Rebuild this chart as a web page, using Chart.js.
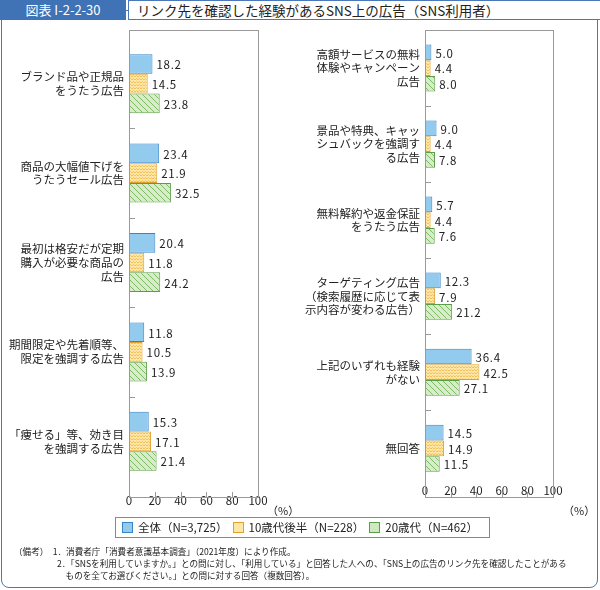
<!DOCTYPE html>
<html><head><meta charset="utf-8">
<script src="https://cdn.jsdelivr.net/npm/chart.js@4"></script>
<style>
body{margin:0;width:600px;height:590px;background:#fff;font-family:"Noto Sans CJK JP",sans-serif;position:relative;overflow:hidden}
#frame{position:absolute;left:1px;top:10px;width:595px;height:576px;border:1.5px solid #4a78b8;border-radius:8px}
#tag{position:absolute;left:0;top:0;width:126px;height:20px;background:#3f73b6;color:#fff;font-size:13px;line-height:20px;text-align:center}
#ttl{position:absolute;left:128px;top:0;width:468px;height:18px;border:1px solid #4a78b8;background:#fff;font-size:13.5px;line-height:18px;padding-left:8px;color:#222}
canvas{position:absolute;top:0}
.pct{position:absolute;top:502px;font-size:11px;color:#222}
#legend{position:absolute;left:115px;top:517px;width:367px;height:19px;border:1px solid #888;font-size:11.5px;line-height:19px;color:#222;white-space:nowrap;padding-left:6px;background:#fff}
#legend span.sw{display:inline-block;width:9px;height:9px;border:1px solid;vertical-align:-1px;margin-right:5px}
#notes{position:absolute;left:14px;top:545px;font-size:8.6px;line-height:12px;color:#222;white-space:pre}
</style></head><body>
<div id="frame"></div>
<div id="tag">図表 I-2-2-30</div>
<div id="ttl">リンク先を確認した経験があるSNS上の広告（SNS利用者）</div>
<div style="position:absolute;left:0;top:0;width:300px;height:512px"><canvas id="c1"></canvas></div>
<div style="position:absolute;left:290px;top:0;width:300px;height:512px"><canvas id="c2"></canvas></div>
<div class="pct" style="left:267px">（%）</div>
<div class="pct" style="left:563px">（%）</div>
<div id="legend"><span class="sw" style="background:#93cbef;border-color:#3a84c4"></span>全体（N=3,725）&nbsp;&nbsp;<span class="sw" id="sw2" style="background:#fde6a6;border-color:#e0a030"></span>10歳代後半（N=228）&nbsp;&nbsp;<span class="sw" id="sw3" style="background:#cfe8bf;border-color:#5a9e48"></span>20歳代（N=462）</div>
<div id="notes">（備考）　1．消費者庁「消費者意識基本調査」（2021年度）により作成。
　　　　　2．「SNSを利用していますか。」との問に対し、「利用している」と回答した人への、「SNS上の広告のリンク先を確認したことがある
　　　　　　ものを全てお選びください。」との問に対する回答（複数回答）。</div>
<script>
const catsLeft=[["ブランド品や正規品","をうたう広告"],["商品の大幅値下げを","うたうセール広告"],["最初は格安だが定期","購入が必要な商品の","広告"],["期間限定や先着順等、","限定を強調する広告"],["「痩せる」等、効き目","を強調する広告"]];
const allLeft=[18.2,23.4,20.4,11.8,15.3];
const teenLeft=[14.5,21.9,11.8,10.5,17.1];
const twentiesLeft=[23.8,32.5,24.2,13.9,21.4];
const catsRight=[["高額サービスの無料","体験やキャンペーン","広告"],["景品や特典、キャッ","シュバックを強調す","る広告"],["無料解約や返金保証","をうたう広告"],["ターゲティング広告","（検索履歴に応じて表","示内容が変わる広告）"],["上記のいずれも経験","がない"],["無回答"]];
const allRight=[5.0,9.0,5.7,12.3,36.4,14.5];
const teenRight=[4.4,4.4,4.4,7.9,42.5,14.9];
const twentiesRight=[8.0,7.8,7.6,21.2,27.1,11.5];
const seriesNames=["全体（N=3,725）","10歳代後半（N=228）","20歳代（N=462）"];
const xTicks=[0,20,40,60,80,100];

function pat(kind){
  const c=document.createElement('canvas');c.width=6;c.height=6;const g=c.getContext('2d');
  if(kind==='o'){g.fillStyle='#fde6a6';g.fillRect(0,0,6,6);g.strokeStyle='#f0b848';g.lineWidth=0.8;
    g.beginPath();g.moveTo(0,2);g.lineTo(1.5,0.5);g.lineTo(3,2);g.lineTo(4.5,0.5);g.lineTo(6,2);
    g.moveTo(0,5);g.lineTo(1.5,3.5);g.lineTo(3,5);g.lineTo(4.5,3.5);g.lineTo(6,5);g.stroke();}
  else{g.fillStyle='#d8eccb';g.fillRect(0,0,6,6);g.strokeStyle='#7dbb62';g.lineWidth=1;
    g.beginPath();g.moveTo(0,0);g.lineTo(6,6);g.moveTo(-3,3);g.lineTo(3,9);g.moveTo(3,-3);g.lineTo(9,3);g.stroke();}
  return document.createElement('canvas').getContext('2d').createPattern(c,'repeat');
}
const P1=pat('o'),P2=pat('g');
const fr={id:'fr',afterDraw(ch,a,o){
  const {ctx,chartArea:ca}=ch;const x=ch.scales.x,y=ch.scales.y;
  const top=o.top,bot=o.bottom;
  ctx.save();ctx.strokeStyle='#9a9a9a';ctx.lineWidth=1;
  ctx.strokeRect(ca.left+0.5,top+0.5,ca.right-ca.left,bot-top);
  ctx.beginPath();
  for(const t of xTicks.slice(1,-1)){const px=Math.round(x.getPixelForValue(t))+0.5;ctx.moveTo(px,bot);ctx.lineTo(px,bot-5);}
  const n=ch.data.labels.length;
  for(let i=1;i<n;i++){const py=Math.round((y.getPixelForValue(i-1)+y.getPixelForValue(i))/2)+0.5;ctx.moveTo(ca.left,py);ctx.lineTo(ca.left+6,py);}
  ctx.stroke();
  ctx.fillStyle='#222';ctx.font='11.5px "Noto Sans CJK JP"';ctx.textBaseline='middle';
  ch.data.datasets.forEach((d,di)=>{ch.getDatasetMeta(di).data.forEach((b,i)=>{ctx.fillText(d.data[i].toFixed(1).split('').join('\u200a'),b.x+4,b.y+1);});});
  ctx.restore();}};
function mk(id,cats,a,b,c,top,bot,yw,padR){
  new Chart(document.getElementById(id),{type:'bar',
   data:{labels:cats,datasets:[
    {label:seriesNames[0],data:a,backgroundColor:'#93cbef',borderColor:'#3a84c4',borderWidth:1},
    {label:seriesNames[1],data:b,backgroundColor:P1,borderColor:'#e0a030',borderWidth:1},
    {label:seriesNames[2],data:c,backgroundColor:P2,borderColor:'#5a9e48',borderWidth:1}]},
   options:{indexAxis:'y',responsive:true,maintainAspectRatio:false,animation:false,
    categoryPercentage:0.64,barPercentage:1,
    layout:{padding:{top:top,right:padR,bottom:0,left:0}},
    plugins:{legend:{display:false},tooltip:{enabled:false},fr:{top:30,bottom:497}},
    scales:{
     x:{min:0,max:100,afterBuildTicks:s=>{s.ticks=xTicks.map(v=>({value:v}));},grid:{display:false},border:{display:false},
        ticks:{color:'#222',font:{size:11.5,family:'"Noto Sans CJK JP"'},padding:bot,maxRotation:0},afterFit:s=>{s.height=512-(497-(30-top===0?0:0))-0;}},
     y:{grid:{display:false},border:{display:false},ticks:{color:'#222',font:{size:11.5,family:'"Noto Sans CJK JP"'},padding:6,crossAlign:'far'},afterFit:s=>{s.width=yw;}}
    }},plugins:[fr]});
}
// left: chart area 39..486 ; right: 30..497
Chart.defaults.font.family='"Noto Sans CJK JP"';
(function(){
 // left
 new Chart(document.getElementById('c1'),cfg(catsLeft,allLeft,teenLeft,twentiesLeft,39,26,129,42));
 new Chart(document.getElementById('c2'),cfg(catsRight,allRight,teenRight,twentiesRight,30,15,135,37));
})();
function cfg(cats,a,b,c,top,xh,yw,padR){
 return {type:'bar',
   data:{labels:cats,datasets:[
    {label:seriesNames[0],data:a,backgroundColor:'#93cbef',borderColor:'#3a84c4',borderWidth:1},
    {label:seriesNames[1],data:b,backgroundColor:P1,borderColor:'#e0a030',borderWidth:1},
    {label:seriesNames[2],data:c,backgroundColor:P2,borderColor:'#5a9e48',borderWidth:1}]},
   options:{indexAxis:'y',responsive:true,maintainAspectRatio:false,animation:false,
    categoryPercentage:top===39?0.66:0.62,barPercentage:1,
    layout:{padding:{top:top,right:padR,bottom:0,left:0}},
    plugins:{legend:{display:false},tooltip:{enabled:false},fr:{top:30,bottom:497}},
    scales:{
     x:{min:0,max:100,afterBuildTicks:s=>{s.ticks=xTicks.map(v=>({value:v}));},grid:{display:false,tickLength:0},border:{display:false},
        ticks:{color:'#222',font:{size:11.5},padding:xh-18,maxRotation:0},afterFit:s=>{s.height=xh;}},
     y:{grid:{display:false,tickLength:0},border:{display:false},ticks:{color:'#222',font:{size:11.5},padding:5},afterFit:s=>{s.width=yw;}}
    }},plugins:[fr]};
}
</script></body></html>
